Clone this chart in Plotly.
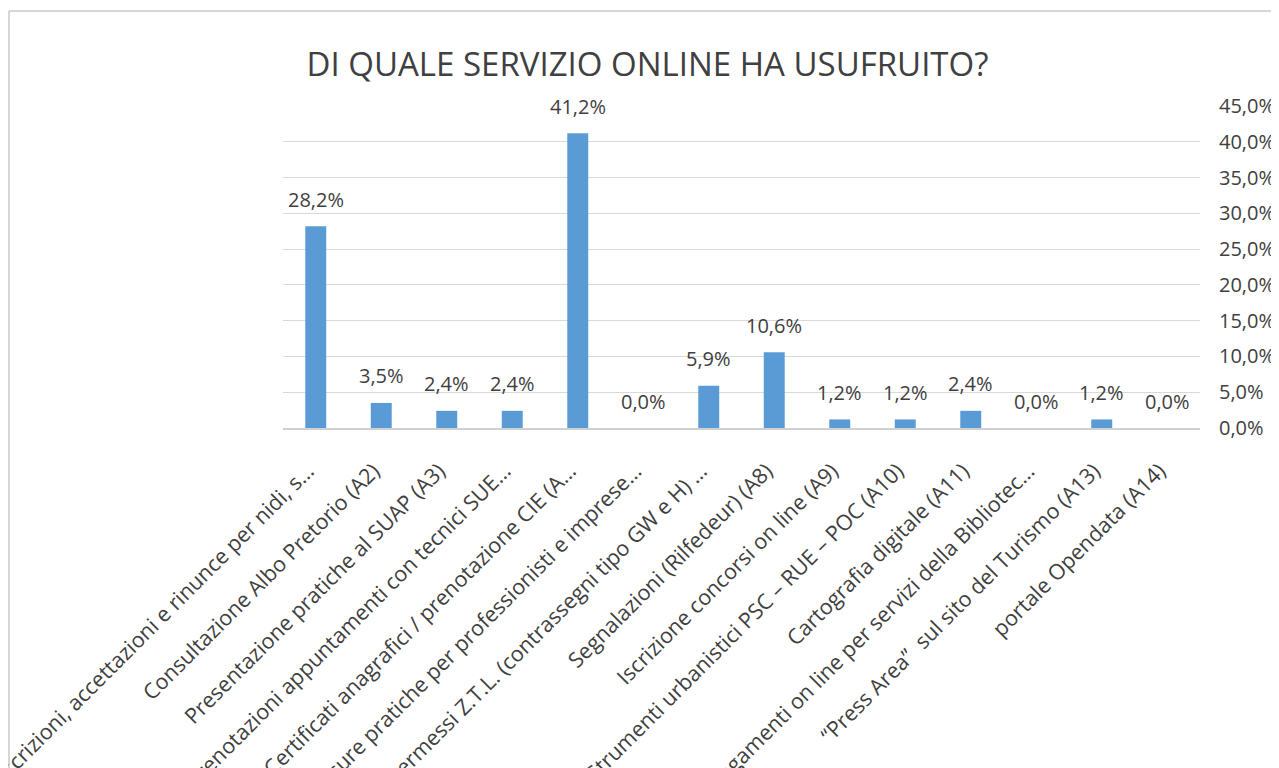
import plotly.graph_objects as go

categories = [
    "Iscrizioni, accettazioni e rinunce per nidi, s…",
    "Consultazione Albo Pretorio (A2)",
    "Presentazione pratiche al SUAP (A3)",
    "Prenotazioni appuntamenti con tecnici SUE…",
    "Certificati anagrafici / prenotazione CIE (A…",
    "Visure pratiche per professionisti e imprese…",
    "Permessi Z.T.L. (contrassegni tipo GW e H) …",
    "Segnalazioni (Rilfedeur) (A8)",
    "Iscrizione concorsi on line (A9)",
    "Strumenti urbanistici PSC – RUE – POC (A10)",
    "Cartografia digitale (A11)",
    "Pagamenti on line per servizi della Bibliotec…",
    "“Press Area”  sul sito del Turismo (A13)",
    "portale Opendata (A14)",
]
values = [0.282, 0.035, 0.024, 0.024, 0.412, 0.0, 0.059, 0.106, 0.012, 0.012, 0.024, 0.0, 0.012, 0.0]
title_text = "DI QUALE SERVIZIO ONLINE HA USUFRUITO?"

# page is offset by the 8px body margin
OFF = 8
W, H = 1279 - OFF, 768 - OFF
L, R, T, B = 283 - OFF, 1279 - 1200, 106 - OFF, 768 - 428
pw, ph = W - L - R, H - T - B

FONT = "Open Sans"
GREY = "#404040"

def fmt(v):
    return f"{v * 100:.1f}%".replace(".", ",")

fig = go.Figure(go.Bar(
    x=categories, y=values,
    marker=dict(color="#5B9BD5", line=dict(width=0)),
    width=0.32,
    hoverinfo="x+y",
))

for c, v in zip(categories, values):
    fig.add_annotation(
        x=c, y=v, text=fmt(v), showarrow=False,
        xanchor="center", yanchor="middle", yshift=27,
        font=dict(family=FONT, size=20, color=GREY),
    )

pad = "\u00a0\u00a0"
fig.update_layout(
    width=W, height=H,
    margin=dict(l=L, r=R, t=T, b=B, autoexpand=False),
    paper_bgcolor="white", plot_bgcolor="white",
    separators=",.",
    showlegend=False,
    title=dict(text=title_text, x=(647.5 - OFF) / W, xanchor="center",
               y=1 - (64 - OFF) / H, yanchor="middle",
               font=dict(family=FONT, size=33, color=GREY)),
    xaxis=dict(
        tickangle=-45, automargin=False,
        tickmode="array", tickvals=categories,
        ticktext=[c + pad for c in categories],
        tickfont=dict(family=FONT, size=21.5, color=GREY),
        showgrid=False, showline=True, linecolor="#D0D0D0", linewidth=2,
        ticks="", ticklabelstandoff=12,
    ),
    yaxis=dict(
        side="right", range=[0, 0.45], dtick=0.05, tickformat=".1%",
        showgrid=True, gridcolor="#D9D9D9", gridwidth=1,
        zeroline=False, showline=False, ticks="",
        automargin=False, ticklabelstandoff=18,
        tickfont=dict(family=FONT, size=20, color=GREY),
    ),
    shapes=[
        dict(type="line", xref="paper", yref="paper",
             x0=(1 - L) / pw, x1=(W + 5 - L) / pw,
             y0=(H - B - 3) / ph, y1=(H - B - 3) / ph,
             line=dict(color="#C8C8C8", width=1.5)),
        dict(type="line", xref="paper", yref="paper",
             x0=(1 - L) / pw, x1=(1 - L) / pw,
             y0=(H - B - 3) / ph, y1=(H - B - H - 5) / ph,
             line=dict(color="#C8C8C8", width=1.5)),
    ],
)

fig.write_html("out.html")
